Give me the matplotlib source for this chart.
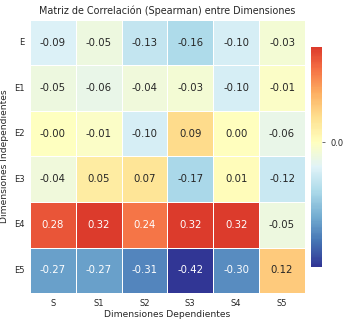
import numpy as np
import matplotlib
matplotlib.use("Agg")
import matplotlib.pyplot as plt
import seaborn as sns

# Spearman correlations
rows = ["E", "E1", "E2", "E3", "E4", "E5"]
cols = ["S", "S1", "S2", "S3", "S4", "S5"]
corr_E = [-0.09, -0.05, -0.13, -0.16, -0.10, -0.03]
corr_E1 = [-0.05, -0.06, -0.04, -0.03, -0.10, -0.01]
corr_E2 = [-0.001, -0.01, -0.10, 0.09, 0.00, -0.06]
corr_E3 = [-0.04, 0.05, 0.07, -0.17, 0.01, -0.12]
corr_E4 = [0.28, 0.32, 0.24, 0.32, 0.32, -0.05]
corr_E5 = [-0.27, -0.27, -0.31, -0.42, -0.30, 0.12]

data = np.array([corr_E, corr_E1, corr_E2, corr_E3, corr_E4, corr_E5])

sns.set_style("white")
plt.rcParams['font.family'] = ['DejaVu Sans']

fig = plt.figure(figsize=(3.43, 3.22), dpi=100)
ax = fig.add_axes([0.087, 0.090, 0.802, 0.848])
cax = fig.add_axes([0.907, 0.171, 0.032, 0.683])

sns.heatmap(data, ax=ax, cbar_ax=cax, cmap="RdYlBu_r", center=0,
            annot=True, fmt=".2f", annot_kws={"fontsize": 7.3},
            linewidths=0.6, linecolor="white",
            xticklabels=cols, yticklabels=rows)

ax.set_title("Matriz de Correlación (Spearman) entre Dimensiones", fontsize=6.9, pad=4)
ax.set_xlabel("Dimensiones Dependientes", fontsize=6.6, labelpad=2)
ax.set_ylabel("Dimensiones Independientes", fontsize=6.6, labelpad=3)
ax.tick_params(axis="both", length=0, labelsize=6, pad=4)
ax.tick_params(axis="y", rotation=0)

cbar = ax.collections[0].colorbar
cbar.set_ticks([0.0])
cbar.set_ticklabels(["0.0"])
cbar.ax.tick_params(labelsize=6, length=2.5, width=0.6, color="#555555")

fig.savefig("out.png", dpi=100)
